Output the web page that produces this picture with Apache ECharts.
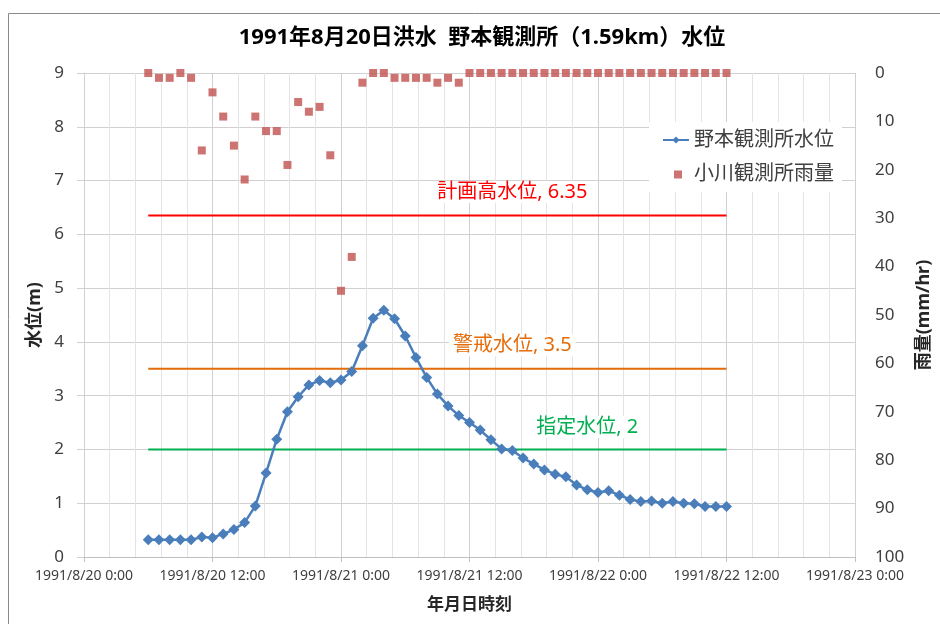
<!DOCTYPE html>
<html>
<head>
<meta charset="utf-8">
<script src="https://cdn.jsdelivr.net/npm/echarts@6/dist/echarts.min.js"></script>
<style>
  html, body { margin: 0; padding: 0; background: #fff; overflow: hidden; }
  #chart { width: 940px; height: 624px; }
</style>
</head>
<body>
<div id="chart"></div>
<script>
// Hourly observations, 1991/8/20 6:00 through 1991/8/22 12:00
const firstHour = 6; // hours after 1991/8/20 0:00

// 野本観測所 water level (m)
const waterLevel = [
  0.32, 0.32, 0.32, 0.32, 0.32, 0.37, 0.36, 0.43, 0.51, 0.64,
  0.95, 1.56, 2.19, 2.70, 2.98, 3.20, 3.28, 3.24, 3.29, 3.45,
  3.93, 4.44, 4.59, 4.43, 4.11, 3.71, 3.34, 3.03, 2.81, 2.63,
  2.50, 2.36, 2.18, 2.01, 1.98, 1.84, 1.73, 1.62, 1.54, 1.49,
  1.34, 1.25, 1.20, 1.23, 1.15, 1.07, 1.03, 1.04, 1.00, 1.03,
  1.00, 0.99, 0.94, 0.94, 0.94
];

// 小川観測所 hourly rainfall (mm/hr)
const rainfall = [
  0, 1, 1, 0, 1, 16, 4, 9, 15, 22,
  9, 12, 12, 19, 6, 8, 7, 17, 45, 38,
  2, 0, 0, 1, 1, 1, 1, 2, 1, 2,
  0, 0, 0, 0, 0, 0, 0, 0, 0, 0,
  0, 0, 0, 0, 0, 0, 0, 0, 0, 0,
  0, 0, 0, 0, 0
];

// Reference water levels (m)
const refLevels = [
  { name: '計画高水位', value: 6.35, color: '#FF0000', labelAt: 34, dist: 12 },
  { name: '警戒水位',   value: 3.5,  color: '#E46C0A', labelAt: 34, dist: 12 },
  { name: '指定水位',   value: 2,    color: '#00B050', labelAt: 41, dist: 11 }
];

const hours = waterLevel.map((_, i) => firstHour + i);

function hourLabel(h) {
  const day = 20 + Math.floor(h / 24);
  const hr = h % 24;
  return '1991/8/' + day + ' ' + hr + ':00';
}

const FONT = "'Noto Sans', 'Noto Sans CJK JP', sans-serif";
const GRID_MAJOR = '#d0d0d0';

const refSeries = refLevels.map(ref => ({
  name: ref.name,
  type: 'line',
  yAxisIndex: 0,
  z: 3,
  silent: true,
  showSymbol: true,
  symbol: 'none',
  lineStyle: { color: ref.color, width: 2 },
  itemStyle: { color: ref.color },
  label: {
    show: false,
    position: 'top',
    distance: ref.dist,
    formatter: () => ref.name + ', ' + ref.value,
    color: ref.color,
    fontSize: 20,
    fontFamily: FONT,
    backgroundColor: '#fff',
    padding: [1, 4]
  },
  data: hours.map((h, i) => i === ref.labelAt
    ? { value: [h, ref.value], symbol: 'circle', symbolSize: 1, label: { show: true } }
    : [h, ref.value])
}));

const chart = echarts.init(document.getElementById('chart'), null, { renderer: 'canvas' });

chart.setOption({
  animation: false,
  backgroundColor: '#fff',
  textStyle: { fontFamily: FONT },
  graphic: [{
    // chart frame
    type: 'rect',
    z: -10,
    silent: true,
    shape: { x: 8.5, y: 13.5, width: 1000, height: 1000 },
    style: { fill: 'none', stroke: '#8a8a8a', lineWidth: 1 }
  }],
  title: {
    text: '1991年8月20日洪水  野本観測所（1.59km）水位',
    left: 482,
    textAlign: 'center',
    top: 27,
    padding: 0,
    textStyle: { fontSize: 22, fontWeight: 'bold', color: '#000', fontFamily: FONT }
  },
  legend: {
    orient: 'vertical',
    left: 649,
    top: 122,
    backgroundColor: '#fff',
    padding: [8, 8, 8, 13],
    itemWidth: 26,
    itemHeight: 9,
    itemGap: 14,
    textStyle: { fontSize: 20, color: '#404040', fontFamily: FONT },
    data: [
      { name: '野本観測所水位' },
      // small square marker centred in the icon box
      { name: '小川観測所雨量', icon: 'path://M0,0M26,9M11,1h8v8h-8z' }
    ]
  },
  grid: {
    left: 84, right: 85, top: 73, bottom: 67,
    containLabel: false,
    outerBoundsMode: 'none'
  },
  xAxis: {
    type: 'value',
    min: 0,
    max: 72,
    interval: 12,
    name: '年月日時刻',
    nameLocation: 'middle',
    nameGap: 40,
    nameTextStyle: { fontSize: 17, fontWeight: 'bold', color: '#262626' },
    axisLine: { show: true, lineStyle: { color: '#bfbfbf' } },
    axisTick: { show: true, length: 5, lineStyle: { color: '#bfbfbf' } },
    minorTick: { show: false, splitNumber: 5 },
    minorSplitLine: { show: true, lineStyle: { color: '#e4e4e4' } },
    splitLine: { show: true, lineStyle: { color: GRID_MAJOR } },
    axisLabel: { fontSize: 14, color: '#404040', margin: 12, formatter: hourLabel }
  },
  yAxis: [{
    type: 'value',
    min: 0,
    max: 9,
    interval: 1,
    name: '水位(m)',
    nameLocation: 'middle',
    nameGap: 37,
    nameRotate: 90,
    nameTextStyle: { fontSize: 18, fontWeight: 'bold', color: '#262626' },
    axisLine: { show: true, lineStyle: { color: GRID_MAJOR } },
    axisTick: { show: true, length: 7, lineStyle: { color: GRID_MAJOR } },
    splitLine: { show: true, lineStyle: { color: GRID_MAJOR } },
    axisLabel: { fontSize: 17, color: '#404040', margin: 20 }
  }, {
    type: 'value',
    min: 0,
    max: 100,
    interval: 10,
    inverse: true,
    position: 'right',
    name: '雨量(mm/hr)',
    nameLocation: 'middle',
    nameGap: 60,
    nameRotate: 90,
    nameTextStyle: { fontSize: 18, fontWeight: 'bold', color: '#262626' },
    axisLine: { show: false, onZero: false },
    axisTick: { show: false },
    splitLine: { show: false },
    axisLabel: { fontSize: 17, color: '#404040', margin: 20, align: 'left' }
  }],
  series: [
    ...refSeries,
    {
      name: '野本観測所水位',
      type: 'line',
      yAxisIndex: 0,
      z: 5,
      symbol: 'diamond',
      symbolSize: 11,
      color: '#4A7EBB',
      lineStyle: { color: '#4A7EBB', width: 2.5 },
      itemStyle: { color: '#4A7EBB' },
      data: hours.map((h, i) => [h, waterLevel[i]])
    },
    {
      name: '小川観測所雨量',
      type: 'scatter',
      yAxisIndex: 1,
      z: 4,
      symbol: 'rect',
      symbolSize: 8,
      itemStyle: { color: '#C0504D' },
      data: hours.map((h, i) => [h, rainfall[i]])
    }
  ]
});
</script>
</body>
</html>
